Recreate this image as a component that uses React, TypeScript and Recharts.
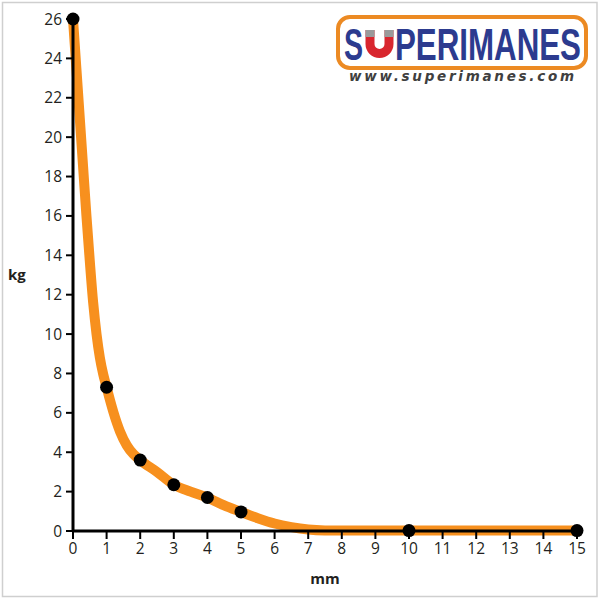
import { ComposedChart, Line, XAxis, YAxis } from "recharts";

// pull force (kg) against gap (mm): measured points
const gapMm = [0, 1, 2, 3, 4, 5, 10, 15];
const forceKg = [26, 7.3, 3.6, 2.35, 1.7, 0.97, 0.02, 0.02];

// fitted curve
const curveMm = [0, 0.1, 0.2, 0.3, 0.4, 0.5, 0.6, 0.7, 0.8, 0.9, 1, 1.1, 1.2, 1.4, 1.6, 1.8, 2, 2.5, 3, 3.5, 4, 4.5, 5, 5.5, 6, 6.5, 7, 7.5, 8, 10, 15];
const curveKg = [26, 23.5, 21, 18.5, 16, 13.7, 11.6, 10.0, 8.8, 7.95, 7.3, 6.65, 6.05, 5.05, 4.35, 3.9, 3.6, 3.0, 2.35, 2.0, 1.7, 1.3, 0.97, 0.65, 0.38, 0.2, 0.08, 0.03, 0.02, 0.02, 0.02];

const xTicks = [0, 1, 2, 3, 4, 5, 6, 7, 8, 9, 10, 11, 12, 13, 14, 15];
const yTicks = [0, 2, 4, 6, 8, 10, 12, 14, 16, 18, 20, 22, 24, 26];

const points = gapMm.map((x, i) => ({ x, y: forceKg[i] }));
const curve = curveMm.map((x, i) => ({ x, y: curveKg[i] }));

const font = "'Open Sans', sans-serif";
const tickStyle = { fontSize: 15.5, fill: "#231f20", fontFamily: font };
const labelStyle = { fontSize: 15, fontWeight: 700, fill: "#231f20", fontFamily: font };
const logoFont = { fontFamily: "'Liberation Sans', Arial, sans-serif" };

function Logo() {
  return (
    <svg width={600} height={600} style={{ position: "absolute", left: 0, top: 0, pointerEvents: "none" }}>
      <rect x={2.5} y={2.5} width={594.5} height={594} fill="none" stroke="#cfcfcf" strokeWidth={1.5} />
      <rect x={338} y={17} width={248} height={51} rx={12} fill="#fff" stroke="#ec8a23" strokeWidth={4} />
      <text transform="translate(344,60) scale(0.65,1)" fontSize={44} fontWeight={700} fill="#2c3b8f" style={logoFont}>S</text>
      <path d="M 370 30 V 44 A 9.5 9.5 0 0 0 389 44 V 30" fill="none" stroke="#d8262e" strokeWidth={9} />
      <path d="M 370 30 V 37 M 389 30 V 37" fill="none" stroke="#9a9a9a" strokeWidth={9} />
      <text transform="translate(395,60) scale(0.711,1)" fontSize={44} fontWeight={700} fill="#2c3b8f"
        textLength={261.6} lengthAdjust="spacingAndGlyphs" style={logoFont}>PERIMANES</text>
      <text x={349} y={81} fontSize={13.5} fontWeight={700} fontStyle="italic" fill="#404040" textLength={225}
        style={{ fontFamily: "'DejaVu Sans', sans-serif" }}>www.superimanes.com</text>
    </svg>
  );
}

export default function App() {
  return (
    <div style={{ position: "absolute", left: 0, top: 0, width: 600, height: 600, background: "#fff" }}>
      <ComposedChart width={600} height={600} margin={{ top: 19, right: 23, bottom: 0, left: 0 }}>
        <XAxis
          type="number"
          dataKey="x"
          domain={[0, 15]}
          ticks={xTicks}
          interval={0}
          height={69}
          axisLine={{ stroke: "#000", strokeWidth: 3 }}
          tickLine={{ stroke: "#000", strokeWidth: 2 }}
          tickSize={8}
          tickMargin={4}
          tick={tickStyle}
          label={{ value: "mm", position: "insideBottom", offset: 16, style: labelStyle }}
        />
        <YAxis
          type="number"
          domain={[0, 26]}
          ticks={yTicks}
          interval={0}
          width={73}
          axisLine={{ stroke: "#000", strokeWidth: 3 }}
          tickLine={{ stroke: "#000", strokeWidth: 2 }}
          tickSize={7}
          tickMargin={4}
          tick={tickStyle}
          label={{ value: "kg", position: "insideLeft", offset: 8, style: labelStyle }}
        />
        <Line data={curve} dataKey="y" type="monotone" stroke="#f7901e" strokeWidth={10} dot={false} isAnimationActive={false} />
        <Line data={points} dataKey="y" stroke="none" dot={{ r: 6.5, fill: "#000", stroke: "none" }} activeDot={false} isAnimationActive={false} />
      </ComposedChart>
      <Logo />
    </div>
  );
}
